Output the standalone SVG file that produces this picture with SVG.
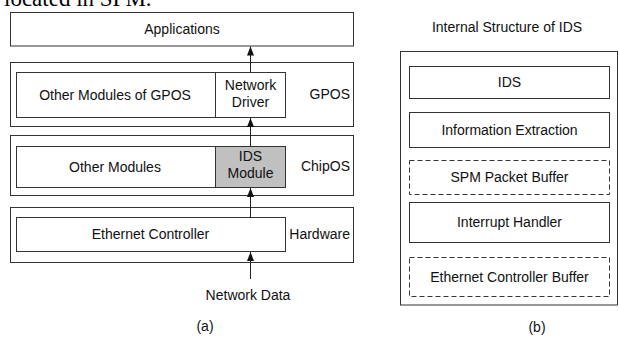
<svg xmlns="http://www.w3.org/2000/svg" width="619" height="340" viewBox="0 0 619 340">
  <style>
    .box { fill: #ffffff; stroke: #333333; stroke-width: 1; }
    .hl { fill: #c0c0c0; stroke: #333333; stroke-width: 1; }
    .dash { fill: #ffffff; stroke: #333333; stroke-width: 1; stroke-dasharray: 5 3; }
    .lbl { font-family: "Liberation Sans", Arial, sans-serif; font-size: 14px; fill: #111111; text-anchor: middle; }
    .side { font-family: "Liberation Sans", Arial, sans-serif; font-size: 14px; fill: #111111; text-anchor: end; }
    .edge { fill: none; stroke: #222222; stroke-width: 1; marker-end: url(#head); }
    .body { font-family: "Liberation Serif", "Times New Roman", serif; font-size: 23px; fill: #000000; }
  </style>
  <defs>
    <marker id="head" markerUnits="userSpaceOnUse" markerWidth="10" markerHeight="8" refX="9" refY="3.5" orient="auto">
      <path d="M0,0 L9,3.5 L0,7 z" fill="#111111"/>
    </marker>
  </defs>
  <rect width="619" height="340" fill="#ffffff"/>

  <!-- running text cut off at the top of the figure -->
  <text class="body" x="4" y="6">located in SPM.</text>

  <!-- (a) layered software stack -->
  <g id="applications">
    <rect class="box" x="10.5" y="12.5" width="343" height="33.5"/>
    <text class="lbl" x="182" y="34">Applications</text>
  </g>
  <g id="gpos">
    <rect class="box" x="10.5" y="62.5" width="343" height="64"/>
    <text class="side" x="350" y="99">GPOS</text>
  </g>
  <g id="gpos-modules">
    <rect class="box" x="16.5" y="72.5" width="199" height="45"/>
    <text class="lbl" x="115" y="99.5">Other Modules of GPOS</text>
  </g>
  <g id="network-driver">
    <rect class="box" x="215.5" y="72.5" width="70" height="45"/>
    <text class="lbl" x="250.5" y="90">Network</text>
    <text class="lbl" x="250.5" y="107">Driver</text>
  </g>
  <g id="chipos">
    <rect class="box" x="10.5" y="135.5" width="343" height="60"/>
    <text class="side" x="350" y="170.5">ChipOS</text>
  </g>
  <g id="chipos-modules">
    <rect class="box" x="16.5" y="146.5" width="199" height="41"/>
    <text class="lbl" x="115" y="171.5">Other Modules</text>
  </g>
  <g id="ids-module">
    <rect class="hl" x="215.5" y="146.5" width="70" height="41"/>
    <text class="lbl" x="250.5" y="161">IDS</text>
    <text class="lbl" x="250.5" y="178">Module</text>
  </g>
  <g id="hardware">
    <rect class="box" x="10.5" y="207.5" width="343" height="55"/>
    <text class="side" x="350" y="238.5">Hardware</text>
  </g>
  <g id="ethernet-controller">
    <rect class="box" x="16.5" y="217.5" width="269" height="34"/>
    <text class="lbl" x="150.5" y="239">Ethernet Controller</text>
  </g>
  <g id="network-data">
    <text class="lbl" x="248" y="300">Network Data</text>
  </g>
  <text class="lbl" x="205" y="331">(a)</text>

  <g id="connectors">
    <line class="edge" x1="250.5" y1="279" x2="250.5" y2="252"/>
    <line class="edge" x1="250.5" y1="217" x2="250.5" y2="188"/>
    <line class="edge" x1="250.5" y1="146" x2="250.5" y2="118"/>
    <line class="edge" x1="250.5" y1="72" x2="250.5" y2="46.5"/>
  </g>

  <!-- (b) internal structure of the IDS -->
  <text class="lbl" x="507" y="32">Internal Structure of IDS</text>
  <g id="ids-frame">
    <rect class="box" x="400.5" y="51.5" width="217" height="253.5"/>
  </g>
  <g id="ids">
    <rect class="box" x="409.5" y="66.5" width="200" height="32"/>
    <text class="lbl" x="509.5" y="87">IDS</text>
  </g>
  <g id="information-extraction">
    <rect class="box" x="409.5" y="112.5" width="200" height="35"/>
    <text class="lbl" x="509.5" y="135">Information Extraction</text>
  </g>
  <g id="spm-packet-buffer">
    <rect class="dash" x="409.5" y="160.5" width="200" height="34"/>
    <text class="lbl" x="509.5" y="182">SPM Packet Buffer</text>
  </g>
  <g id="interrupt-handler">
    <rect class="box" x="409.5" y="202.5" width="200" height="40"/>
    <text class="lbl" x="509.5" y="227">Interrupt Handler</text>
  </g>
  <g id="ethernet-controller-buffer">
    <rect class="dash" x="409.5" y="257.5" width="200" height="39"/>
    <text class="lbl" x="509.5" y="281.5">Ethernet Controller Buffer</text>
  </g>
  <text class="lbl" x="537" y="332">(b)</text>
</svg>
